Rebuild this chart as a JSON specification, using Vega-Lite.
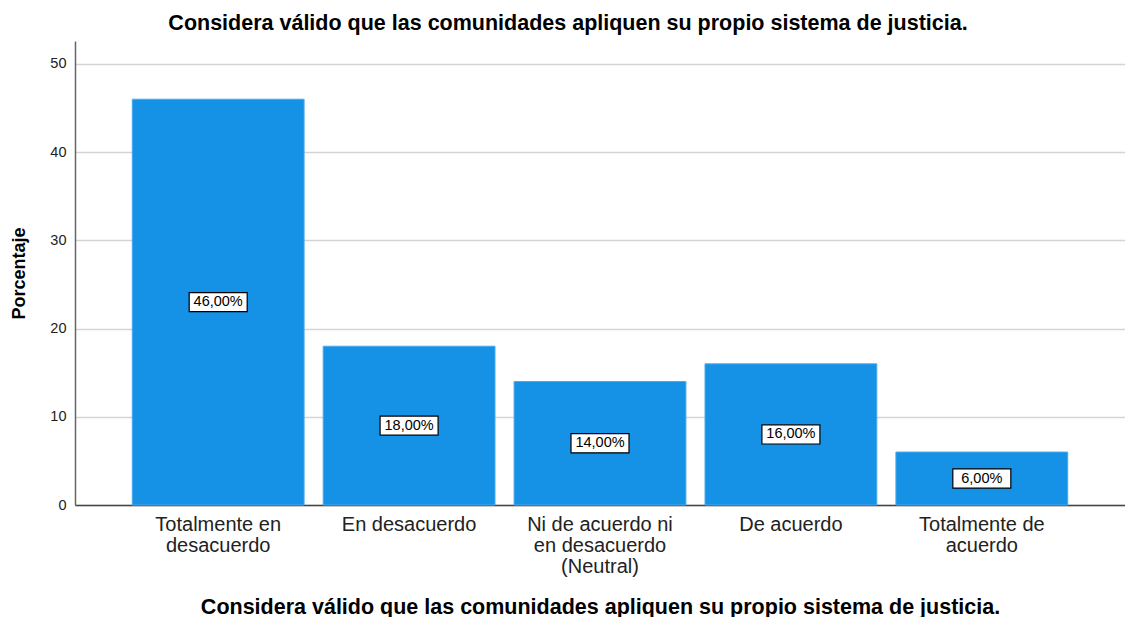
{
  "$schema": "https://vega.github.io/schema/vega-lite/v6.json",
  "width": 1050,
  "height": 464,
  "autosize": {"type": "none"},
  "padding": {"left": 75, "top": 41, "right": 0, "bottom": 112},
  "background": "white",
  "title": {
    "text": "Considera válido que las comunidades apliquen su propio sistema de justicia.",
    "font": "Liberation Sans",
    "fontSize": 21.5,
    "fontWeight": "bold",
    "color": "#000000",
    "anchor": "middle",
    "dx": -32,
    "offset": 7
  },
  "config": {
    "view": {"stroke": null},
    "font": "Liberation Sans"
  },
  "data": {
    "values": [
      {"categoria": "Totalmente en|desacuerdo", "porcentaje": 46, "etiqueta": "46,00%"},
      {"categoria": "En desacuerdo", "porcentaje": 18, "etiqueta": "18,00%"},
      {"categoria": "Ni de acuerdo ni|en desacuerdo|(Neutral)", "porcentaje": 14, "etiqueta": "14,00%"},
      {"categoria": "De acuerdo", "porcentaje": 16, "etiqueta": "16,00%"},
      {"categoria": "Totalmente de|acuerdo", "porcentaje": 6, "etiqueta": "6,00%"}
    ]
  },
  "encoding": {
    "x": {
      "field": "categoria",
      "type": "nominal",
      "sort": ["Totalmente en|desacuerdo", "En desacuerdo", "Ni de acuerdo ni|en desacuerdo|(Neutral)", "De acuerdo", "Totalmente de|acuerdo"],
      "scale": {"paddingInner": 0.1, "paddingOuter": 0.3},
      "axis": {
        "title": "Considera válido que las comunidades apliquen su propio sistema de justicia.",
        "titleFont": "Liberation Sans",
        "titleFontSize": 21.5,
        "titleFontWeight": "bold",
        "titleColor": "#000000",
        "titlePadding": 20,
        "labelExpr": "split(datum.value, '|')",
        "labelAngle": 0,
        "labelFont": "Liberation Sans",
        "labelFontSize": 20,
        "labelLineHeight": 21,
        "labelColor": "#222222",
        "labelPadding": 9,
        "ticks": false,
        "domain": true,
        "domainColor": "#444444",
        "domainWidth": 1.5,
        "grid": false
      }
    }
  },
  "layer": [
    {
      "mark": {"type": "bar", "color": "#1591E6", "stroke": "#4aa9ee", "strokeWidth": 1},
      "encoding": {
        "y": {
          "field": "porcentaje",
          "type": "quantitative",
          "scale": {"domain": [0, 52.6], "nice": false},
          "axis": {
            "title": "Porcentaje",
            "titleFont": "Liberation Sans",
            "titleFontSize": 18,
            "titleFontWeight": "bold",
            "titleColor": "#000000",
            "titlePadding": 21,
            "values": [0, 10, 20, 30, 40, 50],
            "labelFont": "Liberation Sans",
            "labelFontSize": 14.5,
            "labelColor": "#222222",
            "labelPadding": 9,
            "ticks": false,
            "domainColor": "#666666",
            "domainWidth": 1.5,
            "grid": true,
            "gridColor": "#d4d4d4",
            "gridWidth": 1.5
          }
        }
      }
    },
    {
      "transform": [{"calculate": "datum.porcentaje / 2", "as": "mitad"}],
      "mark": {
        "type": "point",
        "shape": "M-1,-0.33L1,-0.33L1,0.33L-1,0.33Z",
        "filled": true,
        "fill": "white",
        "stroke": "#000000",
        "strokeWidth": 1.2,
        "opacity": 1,
        "size": 3364
      },
      "encoding": {
        "y": {"field": "mitad", "type": "quantitative"}
      }
    },
    {
      "transform": [{"calculate": "datum.porcentaje / 2", "as": "mitad"}],
      "mark": {"type": "text", "font": "Liberation Sans", "fontSize": 14.5, "color": "#000000", "baseline": "middle", "align": "center"},
      "encoding": {
        "y": {"field": "mitad", "type": "quantitative"},
        "text": {"field": "etiqueta"}
      }
    }
  ]
}
